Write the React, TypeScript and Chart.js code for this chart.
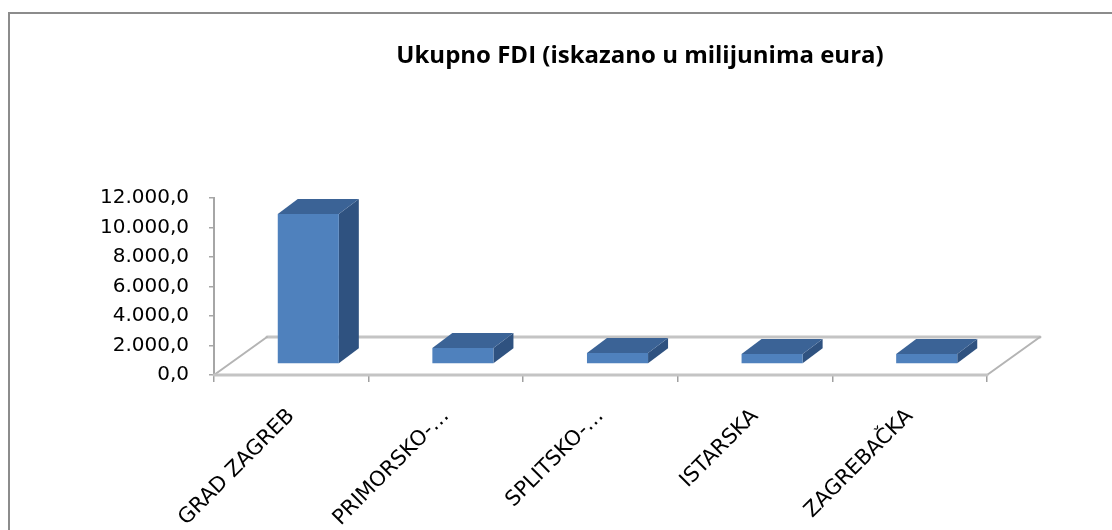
import React, { useEffect, useRef } from 'react';
import { Chart, registerables } from 'chart.js';

Chart.register(...registerables);

const TITLE = 'Ukupno FDI (iskazano u milijunima eura)';
const categories = ['GRAD ZAGREB', 'PRIMORSKO-\u2026', 'SPLITSKO-\u2026', 'ISTARSKA', 'ZAGREBAČKA'];
const fdiValues = [10170, 1085, 750, 680, 680];
const yTickValues = [0, 2000, 4000, 6000, 8000, 10000, 12000];
const yTickLabels = ['0,0', '2.000,0', '4.000,0', '6.000,0', '8.000,0', '10.000,0', '12.000,0'];

const FRONT = { dx: 17, dy: -11 };
const DEPTH = { dx: 20, dy: -15 };
const FLOOR = { dx: 53, dy: -38 };

const COLORS = {
  front: '#4f81bd',
  top: '#3b6396',
  side: '#2f5280',
  floor: '#c4c4c4',
  floorSide: '#b4b4b4',
  frame: '#8c8c8c',
};

const threeDPlugin = {
  id: 'threeD',
  beforeDraw(chart: any) {
    const ctx = chart.ctx;
    ctx.save();
    ctx.fillStyle = '#ffffff';
    ctx.fillRect(0, 0, chart.width, chart.height);
    ctx.strokeStyle = COLORS.frame;
    ctx.lineWidth = 2;
    ctx.beginPath();
    ctx.moveTo(9, chart.height);
    ctx.lineTo(9, 13);
    ctx.lineTo(chart.width, 13);
    ctx.stroke();
    ctx.fillStyle = '#000000';
    ctx.font = 'bold 24px "Open Sans"';
    ctx.textAlign = 'center';
    ctx.textBaseline = 'alphabetic';
    ctx.fillText(TITLE, 640, 63);
    ctx.restore();
  },
  beforeDatasetsDraw(chart: any) {
    const ctx = chart.ctx;
    const a = chart.chartArea;
    ctx.save();
    ctx.lineCap = 'round';
    // floor back edge
    ctx.strokeStyle = COLORS.floor;
    ctx.lineWidth = 3;
    ctx.beginPath();
    ctx.moveTo(a.left + FLOOR.dx, a.bottom + FLOOR.dy);
    ctx.lineTo(a.right + FLOOR.dx, a.bottom + FLOOR.dy);
    ctx.stroke();
    // floor sides
    ctx.strokeStyle = COLORS.floorSide;
    ctx.lineWidth = 2;
    ctx.beginPath();
    ctx.moveTo(a.left, a.bottom);
    ctx.lineTo(a.left + FLOOR.dx, a.bottom + FLOOR.dy);
    ctx.moveTo(a.right, a.bottom);
    ctx.lineTo(a.right + FLOOR.dx, a.bottom + FLOOR.dy);
    ctx.stroke();
    // floor front edge
    ctx.strokeStyle = COLORS.floor;
    ctx.lineWidth = 3;
    ctx.beginPath();
    ctx.moveTo(a.left, a.bottom);
    ctx.lineTo(a.right, a.bottom);
    ctx.stroke();
    ctx.restore();

    // side and top faces of the bars
    const meta = chart.getDatasetMeta(0);
    ctx.save();
    meta.data.forEach((el: any) => {
      const p = el.getProps(['x', 'y', 'base', 'width'], true);
      const xl = p.x - p.width / 2 + FRONT.dx;
      const xr = p.x + p.width / 2 + FRONT.dx;
      const top = Math.min(p.y, p.base) + FRONT.dy;
      const bottom = Math.max(p.y, p.base) + FRONT.dy;
      ctx.fillStyle = COLORS.side;
      ctx.beginPath();
      ctx.moveTo(xr, top);
      ctx.lineTo(xr + DEPTH.dx, top + DEPTH.dy);
      ctx.lineTo(xr + DEPTH.dx, bottom + DEPTH.dy);
      ctx.lineTo(xr, bottom);
      ctx.closePath();
      ctx.fill();
      ctx.fillStyle = COLORS.top;
      ctx.beginPath();
      ctx.moveTo(xl, top);
      ctx.lineTo(xl + DEPTH.dx, top + DEPTH.dy);
      ctx.lineTo(xr + DEPTH.dx, top + DEPTH.dy);
      ctx.lineTo(xr, top);
      ctx.closePath();
      ctx.fill();
    });
    ctx.restore();
    // front faces drawn by Chart.js, shifted into depth
    ctx.save();
    ctx.translate(FRONT.dx, FRONT.dy);
  },
  afterDatasetsDraw(chart: any) {
    chart.ctx.restore();
  },
};

export default function App() {
  const canvasRef = useRef<HTMLCanvasElement | null>(null);

  useEffect(() => {
    if (!canvasRef.current) return;
    const prevOverflow = document.body.style.overflow;
    document.body.style.overflow = 'hidden';
    document.documentElement.style.overflow = 'hidden';
    const chart = new Chart(canvasRef.current, {
      type: 'bar',
      data: {
        labels: categories,
        datasets: [
          {
            label: TITLE,
            data: fdiValues,
            backgroundColor: COLORS.front,
            borderWidth: 0,
            categoryPercentage: 1,
            barPercentage: 0.395,
          },
        ],
      },
      options: {
        responsive: false,
        animation: false,
        events: [],
        layout: { padding: { left: 0, right: 125, top: 198, bottom: 0 } },
        plugins: {
          legend: { display: false },
          title: { display: false },
          tooltip: { enabled: false },
        },
        scales: {
          x: {
            offset: true,
            grid: {
              display: true,
              offset: true,
              drawOnChartArea: false,
              drawTicks: true,
              tickLength: 7,
              color: '#a0a0a0',
              lineWidth: 1.5,
            },
            border: { display: false },
            ticks: {
              autoSkip: false,
              maxRotation: 45,
              minRotation: 45,
              padding: 22,
              color: '#000000',
              font: { family: 'DejaVu Sans', size: 21 },
            },
            afterFit: (s: any) => {
              s.height = 155;
            },
          },
          y: {
            min: 0,
            max: 12000,
            afterBuildTicks: (s: any) => {
              s.ticks = yTickValues.map((v) => ({ value: v }));
            },
            grid: {
              drawOnChartArea: false,
              drawTicks: true,
              tickLength: 5,
              color: '#a6a6a6',
              lineWidth: 1.5,
            },
            border: { display: true, color: '#a6a6a6', width: 2 },
            ticks: {
              padding: 20,
              color: '#000000',
              font: { family: 'DejaVu Sans', size: 20 },
              callback: (_v: any, i: number) => yTickLabels[i],
            },
            afterFit: (s: any) => {
              s.width = 214;
            },
          },
        },
      },
      plugins: [threeDPlugin],
    } as any);
    return () => {
      chart.destroy();
      document.body.style.overflow = prevOverflow;
    };
  }, []);

  return (
    <canvas
      ref={canvasRef}
      width={1112}
      height={530}
      style={{ display: 'block', position: 'absolute', left: 0, top: 0 }}
    />
  );
}
